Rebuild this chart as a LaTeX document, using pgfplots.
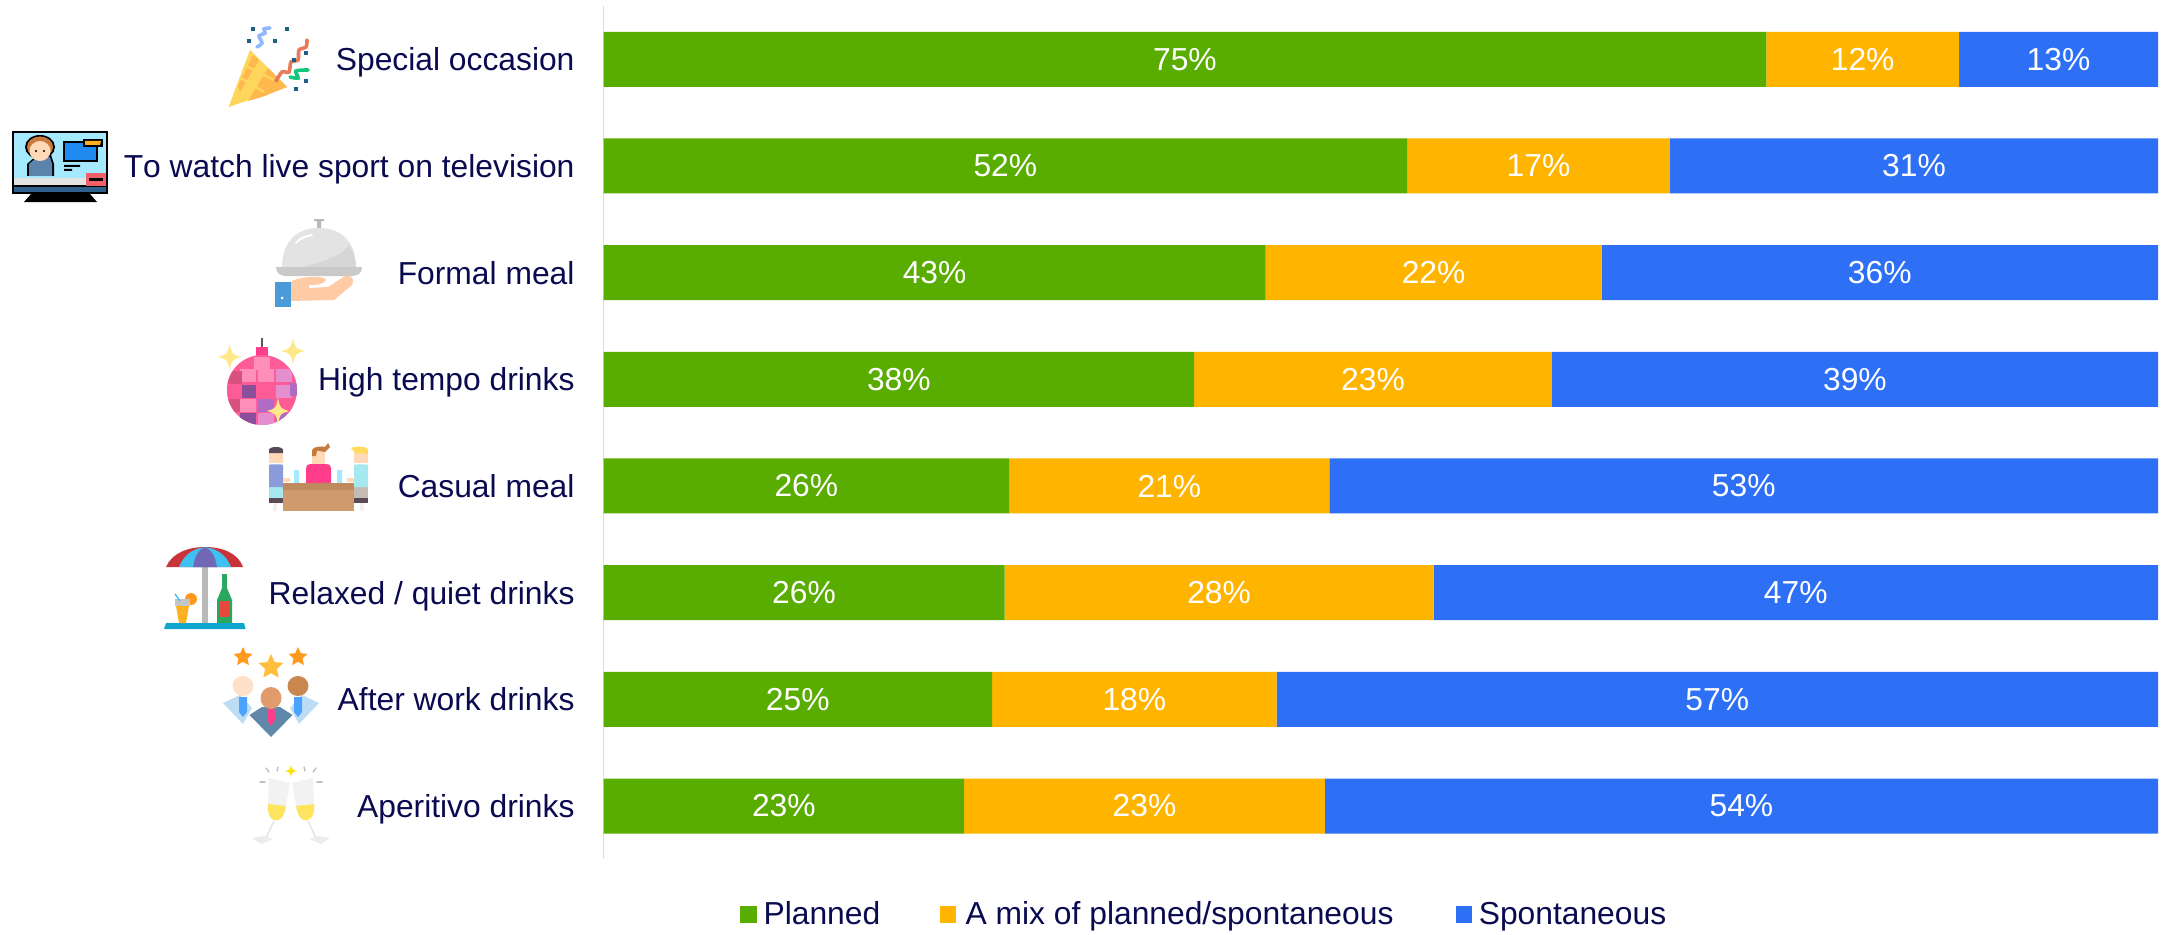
\documentclass[border=0pt]{standalone}
\usepackage{fontspec}
\setmainfont{Liberation Sans}
\usepackage{pgfplots}
\pgfplotsset{compat=1.18}
\usepackage{pgfplotstable}
\usetikzlibrary{shapes.geometric}

\definecolor{planned}{HTML}{59AC00}
\definecolor{mixed}{HTML}{FFB400}
\definecolor{spont}{HTML}{2D70F6}
\definecolor{navy}{HTML}{0A0A50}
\definecolor{rule}{HTML}{DCDCDC}
\definecolor{star1}{HTML}{FF9A1F}
\definecolor{star2}{HTML}{FFBE3D}
\definecolor{cone}{HTML}{FFD65C}
\definecolor{coneb}{HTML}{FFB84D}
\definecolor{streamA}{HTML}{E8795A}
\definecolor{streamB}{HTML}{8FB8FF}
\definecolor{streamC}{HTML}{10C878}
\definecolor{dot}{HTML}{1F5F86}
\definecolor{screen}{HTML}{A5E9FF}
\definecolor{skin}{HTML}{FFD9B8}
\definecolor{hair}{HTML}{C87A3C}
\definecolor{folder}{HTML}{1F8BF0}
\definecolor{tvbar}{HTML}{2F5F8C}
\definecolor{tvred}{HTML}{F2606A}
\definecolor{suit}{HTML}{5A84AC}
\definecolor{dome}{HTML}{E3E3E3}
\definecolor{domeb}{HTML}{D6D6D6}
\definecolor{plate}{HTML}{C9C9C9}
\definecolor{hand}{HTML}{FFCBA4}
\definecolor{cuff}{HTML}{4A9BD8}
\definecolor{ball}{HTML}{FF5C97}
\definecolor{ballA}{HTML}{FF8FB8}
\definecolor{ballB}{HTML}{8B4F9A}
\definecolor{ballC}{HTML}{E48ED0}
\definecolor{ballD}{HTML}{B06CC4}
\definecolor{ballE}{HTML}{D9517F}
\definecolor{spark}{HTML}{FFE88A}
\definecolor{hot}{HTML}{FF3D8B}
\definecolor{wood}{HTML}{CF9A6E}
\definecolor{woodb}{HTML}{BF8A5E}
\definecolor{shirtA}{HTML}{8A9CDC}
\definecolor{shirtB}{HTML}{A5E8F0}
\definecolor{hairA}{HTML}{5A4A58}
\definecolor{hairB}{HTML}{FFDC60}
\definecolor{legsB}{HTML}{C4BCB4}
\definecolor{umbR}{HTML}{C8343A}
\definecolor{umbB}{HTML}{40C0F0}
\definecolor{umbP}{HTML}{7068B4}
\definecolor{basecol}{HTML}{0FA5CE}
\definecolor{bottle}{HTML}{2BA860}
\definecolor{bottlered}{HTML}{E8483C}
\definecolor{drink}{HTML}{FFB020}
\definecolor{pale}{HTML}{BDDDF5}
\definecolor{tie}{HTML}{4BA3FF}
\definecolor{midbody}{HTML}{6088A8}
\definecolor{headA}{HTML}{FFE0C8}
\definecolor{headB}{HTML}{C88850}
\definecolor{headC}{HTML}{E09C6C}
\definecolor{wine}{HTML}{FFE460}
\definecolor{glass}{HTML}{F3F2F2}

\newcommand{\chartfont}{\fontsize{15.9}{19}\selectfont}
% four-pointed sparkle: centre x, centre y, half width, half height, colour
\newcommand{\sparkle}[5]{\fill[#5] (#1-#3,#2) .. controls (#1-#3*.2,#2-#4*.2) .. (#1,#2-#4)
  .. controls (#1+#3*.2,#2-#4*.2) .. (#1+#3,#2) .. controls (#1+#3*.2,#2+#4*.2) .. (#1,#2+#4)
  .. controls (#1-#3*.2,#2+#4*.2) .. cycle;}

\pgfplotstableread{
row planned mixed spont
0   74.8    12.4  12.8
1   51.7    16.9  31.4
2   42.6    21.6  35.8
3   38.0    23.0  39.0
4   26.1    20.6  53.3
5   25.8    27.6  46.6
6   25.0    18.3  56.7
7   23.2    23.2  53.6
}\shares

\begin{document}
\begin{tikzpicture}
\path[use as bounding box] (0,0) rectangle (1081pt,467pt);
\begin{axis}[
  at={(301.75pt,37.33pt)}, anchor=south west,
  scale only axis, width=777.25pt, height=426.7pt,
  xbar stacked, bar width=27.5pt, bar shift=0pt,
  xmin=0, xmax=100, ymin=-0.5, ymax=7.5, y dir=reverse,
  axis x line=none, axis y line*=left,
  axis line style={-, rule, line width=0.6pt},
  ytick={0,...,7}, major tick length=0pt,
  yticklabels={Special occasion,T\kern0pt o watch live sport on television,Formal meal,High tempo drinks,Casual meal,Relaxed / quiet drinks,After work drinks,Aperitivo drinks},
  typeset ticklabels with strut,
  y tick label style={font=\chartfont, text=navy, inner sep=0pt, xshift=-14.3pt, yshift=-2pt},
  nodes near coords={\pgfmathprintnumber[fixed,precision=0,/pgf/number format/assume math mode=true]{\pgfplotspointmeta}\%},
  nodes near coords style={font=\chartfont, text=white, anchor=center, inner sep=0pt},
  legend columns=3,
  legend cell align=left,
  legend style={draw=none, fill=none, at={(0.0881,-0.065)}, anchor=west, inner sep=0pt, outer sep=0pt,
    font=\chartfont, text=navy,
    /tikz/every even column/.append style={column sep=27.75pt},
    /tikz/every odd column/.append style={column sep=1.25pt}},
  legend image code/.code={\fill[#1] (0pt,-4.2pt) rectangle (8.3pt,4.2pt);},
]
\addplot[fill=planned, draw=none] table[x=planned, y=row] {\shares};
\addlegendentry{Planned}
\addplot[fill=mixed, draw=none] table[x=mixed, y=row] {\shares};
\addlegendentry{\hspace*{1.4pt}A mix of planned/spontaneous\hspace*{1.35pt}}
\addplot[fill=spont, draw=none] table[x=spont, y=row] {\shares};
\addlegendentry{Spontaneous}
\end{axis}

% pictograms beside the category names, drawn in a top-left pixel grid
\begin{scope}[shift={(0,467pt)}, x=0.5pt, y=-0.5pt]
  % party popper
  \fill[cone] (228.6,107) -- (250,50) -- (287,87) -- cycle;
  \fill[coneb] (287,87) -- (268,68) -- (248,101) -- (262,97) -- cycle;
  \fill[coneb] (253,55) -- (259,60) -- (240,92) -- (238,86) -- cycle;
  \draw[cone, line width=1.2pt] (246,66) -- (274,80) (241,78) -- (264,92);
  \draw[streamA, line width=1.8pt, line cap=round] plot[smooth] coordinates {(276,81) (282,72) (289,72) (291,62) (298,60) (299,50) (306,47) (307,40)};
  \draw[streamB, line width=1.8pt, line cap=round] plot[smooth] coordinates {(257,47) (262,43) (259,36) (265,33) (264,29) (270,28)};
  \draw[streamC, line width=1.8pt, line cap=round] plot[smooth] coordinates {(290,77) (298,78) (296,71) (308,70)};
  \foreach \cx/\cy in {253/29, 249/41, 275/41, 287/29, 306/53, 294/60, 306/81, 296/89}
    \fill[dot] (\cx-2.2,\cy-2.2) rectangle (\cx+2.2,\cy+2.2);

  % presenter on a television
  \fill[black] (12,131) rectangle (108,194);
  \fill[screen] (14,133) rectangle (106,178);
  \fill[gray!22] (14,178) rectangle (86,185);
  \fill[tvbar] (14,187) rectangle (106,192);
  \fill[tvred] (86,173) rectangle (106,186);
  \fill[black] (89,178) rectangle (103,181);
  \fill[black] (24,202) -- (97,202) -- (90,194) -- (31,194) -- cycle;
  \fill[black] (27,176) -- (27,164) -- (37,155) -- (51,155) -- (54,164) -- (54,176) -- cycle;
  \fill[suit] (29,176) -- (29,164) -- (37,157) -- (50,157) -- (52,164) -- (52,176) -- cycle;
  \fill[black] (40,147) ellipse (15 and 12);
  \fill[hair] (40,147) ellipse (13 and 10.5);
  \fill[skin] (40,151) ellipse (10.5 and 10);
  \fill[black] (36,151) circle (1.1) (44,151) circle (1.1);
  \fill[black] (63,141) rectangle (98,162);
  \fill[folder] (65,143) rectangle (96,160);
  \fill[black] (83,139) rectangle (103,147);
  \fill[drink] (85,141) -- (101,141) -- (100,145) -- (85,145) -- cycle;
  \fill[black] (64,165) rectangle (80,167) (64,169) rectangle (72,171);

  % serving cloche
  \fill[gray!55] (317,220) rectangle (321,230) (314,219) rectangle (324,221);
  \fill[dome] (282,268) .. controls (282,240) and (298,228) .. (319,228) .. controls (340,228) and (356,240) .. (356,268) -- cycle;
  \fill[domeb] (356,268) .. controls (356,258) and (352,250) .. (349,245) .. controls (340,258) and (320,262) .. (300,268) -- cycle;
  \fill[plate] (276,267) -- (362,267) .. controls (362,273) and (358,276) .. (352,276) -- (286,276) .. controls (280,276) and (276,273) .. (276,267) -- cycle;
  \draw[white, line width=1pt, line cap=round] (296,243) .. controls (300,238) and (306,236) .. (312,235);
  \fill[hand] (291,282) .. controls (296,277) and (320,275) .. (326,279) .. controls (326,284) and (318,285) .. (309,285) -- (309,288) -- (328,287) -- (345,276) .. controls (352,274) and (355,280) .. (352,285) -- (334,300) -- (291,301) -- cycle;
  \fill[cuff] (275,282) rectangle (291,307);
  \fill[white] (282,298) circle (1.5);

  % mirror ball
  \draw[gray!70!black, line width=1pt] (262,338) -- (262,348);
  \fill[hot] (256,347) rectangle (268,357);
  \begin{scope}
    \clip (262,390) ellipse (35 and 35);
    \fill[ball] (225,353) rectangle (300,427);
    \foreach \gx/\gy/\gc in {
      254/357/ballA, 240/369/ballA, 258/369/ballA, 226/371/ballE,
      276/369/ballC, 240/385/ballB, 258/385/ball, 276/385/ballC, 290/383/ballD,
      226/385/ball, 226/399/ballE, 240/399/ballA, 258/399/ballD, 276/399/ball,
      240/413/ballB, 258/413/ballC, 276/413/ballD}
      \fill[\gc] (\gx,\gy) rectangle ++(16,13);
  \end{scope}
  \sparkle{229.6}{357}{12}{13}{spark}
  \sparkle{293}{351}{12}{13}{spark}
  \sparkle{278}{411}{11}{13}{spark}

  % three diners at a table
  \fill[gray!12] (273,503) rectangle (277,511) (360,503) rectangle (364,511);
  \fill[shirtB] (269,487) rectangle (283,498);
  \fill[shirtA] (269,465) -- (269,487) -- (283,487) -- (283,465) .. controls (283,464) and (269,464) .. (269,465) -- cycle;
  \fill[skin] (269,452) rectangle (283,463);
  \fill[hairA] (269,453) -- (269,450) .. controls (269,446) and (283,446) .. (283,450) -- (283,453) -- cycle;
  \fill[hairA] (269,498) rectangle (283,503);
  \fill[legsB] (354,487) rectangle (368,498);
  \fill[shirtB] (354,465) -- (354,487) -- (368,487) -- (368,465) .. controls (368,464) and (354,464) .. (354,465) -- cycle;
  \fill[skin] (354,452) rectangle (368,463);
  \fill[hairB] (351,448) .. controls (355,446) and (368,446) .. (368,450) -- (368,454) -- (355,453) -- cycle;
  \fill[hairA] (354,498) rectangle (368,503);
  \fill[hot] (306,483) -- (306,468) .. controls (306,465) and (308,464) .. (311,464) -- (326,464) .. controls (329,464) and (331,465) .. (331,468) -- (331,483) -- cycle;
  \fill[skin] (312,452) rectangle (325,464);
  \fill[hair] (312,456) -- (312,450) .. controls (314,446) and (322,446) .. (325,447) -- (328,443) -- (330,447) -- (325,452) -- (317,451) -- (316,456) -- cycle;
  \fill[screen] (294,470) rectangle (299,483) (337,470) rectangle (342,483);
  \fill[skin] (283,478) rectangle (290,482) (347,478) rectangle (354,482);
  \fill[wood] (283,483) rectangle (354,511);
  \fill[woodb] (283,483) rectangle (354,490);

  % parasol, cocktail and bottle
  \fill[gray!55] (202,567) rectangle (208,623);
  \fill[umbR] (166,567) .. controls (172,553) and (188,547) .. (205,547) .. controls (222,547) and (238,553) .. (243,567) -- cycle;
  \fill[umbB] (179,567) .. controls (184,555) and (192,549) .. (205,547) .. controls (218,549) and (226,555) .. (231,567) -- cycle;
  \fill[umbP] (193,567) .. controls (195,556) and (198,550) .. (205,547) .. controls (212,550) and (215,556) .. (217,567) -- cycle;
  \fill[basecol] (164,629) -- (166,623) -- (244,623) -- (245.5,629) -- cycle;
  \fill[bottle] (222,574) rectangle (227,590);
  \fill[bottle] (217,623) -- (217,600) -- (222,588) -- (227,588) -- (232,600) -- (232,623) -- cycle;
  \fill[bottlered] (219.5,601) rectangle (230,617);
  \fill[star1] (191,599) circle (6);
  \fill[gray!45] (175,599) rectangle (190,606);
  \fill[drink] (176,606) -- (189,606) -- (186,623) -- (179,623) -- cycle;
  \draw[umbB, line width=0.7pt] (180,601) -- (175,594);

  % colleagues under stars
  \foreach \sx/\sy/\sr/\sc in {243/657/10/star1, 298/657/10/star1, 271/667/13/star2}
    \node[star, star points=5, star point ratio=2.1, fill=\sc, inner sep=0pt, minimum size=\sr pt, draw=none] at (\sx,\sy) {};
  \fill[pale] (223,703) -- (240,695) -- (252,708) -- (243,724) -- cycle;
  \fill[pale] (319,703) -- (302,695) -- (290,708) -- (299,724) -- cycle;
  \fill[tie] (239,697) -- (247,697) -- (247,712) -- (243,717) -- (239,712) -- cycle;
  \fill[tie] (294,697) -- (302,697) -- (302,712) -- (298,717) -- (294,712) -- cycle;
  \fill[headA] (243,686) ellipse (10.5 and 10);
  \fill[headB] (298,686) ellipse (10.5 and 10);
  \fill[midbody] (249.5,715) -- (262,707) -- (280,707) -- (292.6,715) -- (271,737) -- cycle;
  \fill[hot] (267.5,709) -- (274.5,709) -- (275,720) -- (271,726) -- (267,720) -- cycle;
  \fill[headC] (271,698) ellipse (10.5 and 11);

  % two clinking flutes
  \foreach \flip in {1,-1}{
    \begin{scope}[shift={(291,0)}, xscale=\flip]
      \fill[glass] (-22,778) -- (-1,783) -- (-5,805) .. controls (-7,818) and (-12,822) .. (-17,820) .. controls (-22,818) and (-24,812) .. (-23,805) -- cycle;
      \fill[wine] (-23,804) -- (-5,806) .. controls (-7,818) and (-12,822) .. (-17,820) .. controls (-22,818) and (-24,812) .. (-23,804) -- cycle;
      \draw[gray!20, line width=0.8pt] (-17,821) -- (-25,838);
      \fill[gray!15] (-39,838) -- (-27,836) -- (-18,839) -- (-30,844) -- cycle;
      \foreach \dx/\dy/\ex/\ey in {-13/767/-14/771, -25/768/-22/772, -31/782/-26/782}
        \draw[gray!50, line width=0.7pt, line cap=round] (\dx,\dy) -- (\ex,\ey);
    \end{scope}
  }
  \sparkle{291}{771}{6}{6}{yellow!85!orange}
\end{scope}
\end{tikzpicture}
\end{document}
